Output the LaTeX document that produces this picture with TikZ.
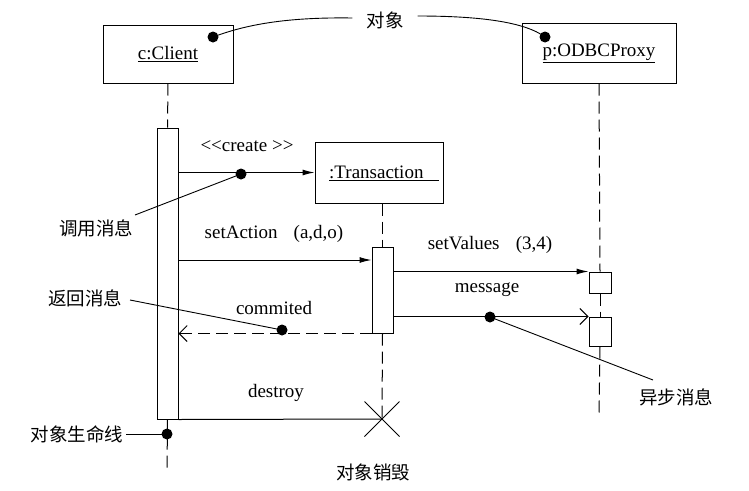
\documentclass[tikz,border=0pt]{standalone}
\usepackage{fontspec}
\setmainfont{Liberation Serif}
\newfontfamily\cjk{Noto Sans CJK SC}
\usetikzlibrary{arrows.meta,shapes.misc}
\begin{document}
\begin{tikzpicture}[x=1pt,y=-1pt,
  every node/.style={font=\fontsize{19}{22}\selectfont, inner sep=0pt},
  objbox/.style={draw, line width=1pt, minimum width=#1, minimum height=60pt},
  actbar/.style={draw, line width=1pt, fill=white, minimum width=21pt},
  life/.style={line width=1pt, dash pattern=on 12pt off 6pt},
  call/.style={line width=1pt, -{Latex[length=12pt,width=6pt]}},
  async/.style={line width=1pt, -{Straight Barb[length=8pt,width=16pt,line width=1pt]}},
  ret/.style={line width=1pt, dash pattern=on 12pt off 6pt, -{Straight Barb[length=8pt,width=16pt,line width=1pt]}},
  note/.style={line width=0.9pt},
  dot/.style={circle, fill=black, minimum size=11pt},
  cjklabel/.style={font=\cjk\fontsize{18.5}{22}\selectfont}
]
\useasboundingbox (0,0) rectangle (749,490);

% objects
\node[objbox=130pt, minimum height=58pt] (client) at (168,54) {\raisebox{-2pt}{\underline{c:Client}}};
\node[objbox=154pt] (proxy) at (599,53) {\raisebox{-4pt}{\underline{p:ODBCProxy}}};
\node[objbox=128pt, minimum height=61pt] (trans) at (379,172.5) {};
\node[anchor=west] (transtxt) at (329,173) {\underline{:Transaction\hspace{0.8em}}};

% activation bars
\node[actbar, minimum height=291pt] (cbar) at (167.5,273.5) {};
\node[actbar, minimum height=86pt] (tbar) at (382.5,290) {};
\node[actbar, minimum width=22pt, minimum height=21pt] (v1) at (600,282.5) {};
\node[actbar, minimum width=22pt, minimum height=29pt] (v2) at (600,331.5) {};

% destruction mark
\node[cross out, draw, line width=1pt, minimum size=34pt] (xx) at (382,419) {};

% lifeline ends
\coordinate (cend) at (167,472);
\coordinate (pend) at (599,418);

% lifelines
\draw[life] (client.south) -- (cbar.north);
\draw[life] (cbar.south) -- (cend);
\draw[life] (trans.south -| tbar.north) -- (tbar.north);
\draw[life] (tbar.south) -- (xx.center);
\draw[life] (proxy.south) -- (v1.north);
\draw[life] (v1.south) -- (v2.north);
\draw[life] (v2.south) -- (pend);

% messages
\draw[call] (cbar.east |- trans.west) -- (trans.west);
\coordinate (sa) at (0,260);
\draw[call] (cbar.east |- sa) -- (tbar.west |- sa);
\draw[call] (tbar.east |- v1.north west) -- (v1.north west);
\draw[async] (tbar.east |- v2.north west) -- (v2.north west);
\draw[ret] (tbar.south west) -- (cbar.east |- tbar.south west);
\draw[line width=1pt] (cbar.south east) -- (xx.center);

% message labels
\node (lcreate) at (247,146) {\mbox{<}\mbox{<}create \mbox{>}\mbox{>}};
\node (lset) at (274,234) {setAction\hspace{0.85em}(a,d,o)};
\node (lval) at (490,245) {setValues\hspace{0.85em}(3,4)};
\node (lmsg) at (487,290) {message};
\node (lcom) at (274,308) {commited};
\node (ldes) at (276,393) {destroy};

% annotation dots
\node[dot] (d1) at (213,37) {};
\node[dot] (d2) at (545,37) {};
\node[dot] (d3) at (241,174) {};
\node[dot] (d4) at (282,330) {};
\node[dot] (d5) at (490,317) {};
\node[dot] (d6) at (167,434) {};

% annotation texts
\node[cjklabel] (tobj) at (385,20) {对象};
\node[cjklabel] (tcall) at (96,228) {调用消息};
\node[cjklabel] (tret) at (85,298) {返回消息};
\node[cjklabel] (tlife) at (77,434) {对象生命线};
\node[cjklabel] (tasync) at (676,397) {异步消息};
\node[cjklabel] (tdes) at (373,472) {对象销毁};

% annotation lines
\draw[note] (tobj.west) ++(-14,-2) coordinate (o1) .. controls (285,17) and (245,25) .. (d1.center);
\draw[note] (tobj.east) ++(14,-4) coordinate (o2) .. controls (480,16) and (525,22) .. (d2.center);
\draw[note] (d3.center) -- (135,215) coordinate (c3);
\draw[note] (d4.center) -- (130,300) coordinate (c4);
\draw[note] (d5.center) -- (653,380) coordinate (c5);
\draw[note] (tlife.east) ++(3,0) coordinate (c6) -- (d6.center);
\end{tikzpicture}
\end{document}
